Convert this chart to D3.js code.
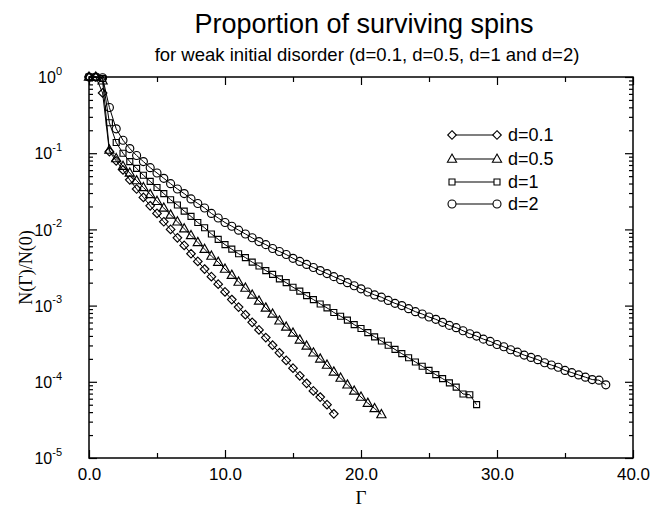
<!DOCTYPE html>
<html>
<head>
<meta charset="utf-8">
<script src="https://cdn.jsdelivr.net/npm/d3@7"></script>
<style>
  html, body { margin: 0; padding: 0; background: #fff; }
  svg { display: block; }
</style>
</head>
<body>
<svg id="chart" width="651" height="512"></svg>
<script>
// ---------------- DATA ----------------
const GAMMA = [0,0.5,1,1.5,2,2.5,3,3.5,4,4.5,5,5.5,6,6.5,7,7.5,8,8.5,9,9.5,10,10.5,11,11.5,12,12.5,13,13.5,14,14.5,15,15.5,16,16.5,17,17.5,18,18.5,19,19.5,20,20.5,21,21.5,22,22.5,23,23.5,24,24.5,25,25.5,26,26.5,27,27.5,28,28.5,29,29.5,30,30.5,31,31.5,32,32.5,33,33.5,34,34.5,35,35.5,36,36.5,37,37.5,38];

const D01 = [1,1,0.617,0.105,0.0794,0.0603,0.0447,0.0339,0.0263,0.0204,0.0162,0.0126,0.0100,0.00776,0.00617,0.00479,0.00380,0.00302,0.00240,0.00191,0.00151,0.00120,0.000955,0.000759,0.000603,0.000479,0.000380,0.000302,0.000240,0.000191,0.000151,0.000120,0.0000955,0.0000759,0.0000631,0.0000501,0.0000380];

const D05 = [1,1,0.891,0.110,0.0851,0.0676,0.0550,0.0437,0.0355,0.0288,0.0234,0.0191,0.0155,0.0126,0.0102,0.00832,0.00676,0.00550,0.00447,0.00372,0.00302,0.00251,0.00204,0.00170,0.00138,0.00115,0.000933,0.000776,0.000631,0.000525,0.000437,0.000355,0.000295,0.000240,0.000200,0.000166,0.000135,0.000112,0.0000912,0.0000759,0.0000631,0.0000525,0.0000447,0.0000372];

const D1 = [1,1,0.955,0.251,0.138,0.100,0.0776,0.0631,0.0513,0.0427,0.0355,0.0295,0.0245,0.0209,0.0174,0.0148,0.0123,0.0105,0.00871,0.00741,0.00631,0.00550,0.00479,0.00427,0.00372,0.00331,0.00288,0.00257,0.00224,0.00200,0.00174,0.00155,0.00135,0.00120,0.00105,0.000933,0.000813,0.000724,0.000646,0.000562,0.000501,0.000441,0.000389,0.000343,0.000302,0.000266,0.000234,0.000207,0.000182,0.000160,0.000141,0.000124,0.000110,0.0000966,0.0000851,0.0000692,0.0000676,0.0000501];

const D2 = [1,1,0.977,0.398,0.209,0.148,0.115,0.0933,0.0776,0.0646,0.0550,0.0468,0.0398,0.0339,0.0295,0.0251,0.0219,0.0191,0.0162,0.0141,0.0123,0.0110,0.00977,0.00871,0.00776,0.00692,0.00631,0.00562,0.00513,0.00468,0.00417,0.00380,0.00347,0.00316,0.00288,0.00263,0.00240,0.00219,0.00200,0.00182,0.00166,0.00151,0.00138,0.00129,0.00117,0.00107,0.00100,0.000912,0.000832,0.000776,0.000708,0.000661,0.000603,0.000550,0.000513,0.000468,0.000427,0.000398,0.000363,0.000339,0.000309,0.000288,0.000263,0.000245,0.000224,0.000209,0.000195,0.000178,0.000166,0.000155,0.000141,0.000132,0.000123,0.000115,0.000107,0.000105,0.0000912];

const SERIES_LABELS = ["d=0.1", "d=0.5", "d=1", "d=2"];
const SERIES_VALUES = [D01, D05, D1, D2];
const SERIES_MARKERS = ["diamond", "triangle", "square", "circle"];

const X_TICKS = [0, 10, 20, 30, 40];
const X_MINOR = [5, 15, 25, 35];
const Y_TICKS = [1, 1e-1, 1e-2, 1e-3, 1e-4, 1e-5];

const TITLE = "Proportion of surviving spins";
const SUBTITLE = "for weak initial disorder (d=0.1, d=0.5, d=1 and d=2)";
const X_TITLE = "\u0393";
const Y_TITLE = "N(\u0393)/N(0)";

// ---------------- LAYOUT ----------------
const L = 89, R = 633, T = 77, B = 458;
const svg = d3.select("#chart");
const x = d3.scaleLinear().domain([0, 40]).range([L, R]);
const y = d3.scaleLog().domain([1e-5, 1]).range([B, T]);

const sans = "'Liberation Sans', Arial, Helvetica, sans-serif";
const serif = "'Liberation Serif', 'Times New Roman', serif";

// titles
svg.append("text").attr("x", 364).attr("y", 33).attr("text-anchor", "middle")
  .attr("font-family", sans).attr("font-size", 27).attr("fill", "#000").text(TITLE);
svg.append("text").attr("x", 367).attr("y", 61).attr("text-anchor", "middle")
  .attr("font-family", sans).attr("font-size", 18.5).attr("fill", "#000").text(SUBTITLE);

// minor y ticks
const yMinor = [];
for (let e = -5; e < 0; e++) for (let m = 2; m <= 9; m++) yMinor.push(m * Math.pow(10, e));

function styleAxis(g) {
  g.select(".domain").remove();
  g.selectAll(".tick line").attr("stroke", "#000").attr("stroke-width", 1.2);
  g.selectAll("text").attr("font-family", sans).attr("font-size", 17).attr("fill", "#000");
}

// bottom
svg.append("g").attr("transform", `translate(0,${B})`)
  .call(d3.axisBottom(x).tickValues(X_TICKS).tickSize(-8).tickPadding(10).tickFormat(d3.format(".1f")))
  .call(styleAxis);
svg.append("g").attr("transform", `translate(0,${B})`)
  .call(d3.axisBottom(x).tickValues(X_MINOR).tickSize(-5).tickFormat(""))
  .call(styleAxis);
// top
svg.append("g").attr("transform", `translate(0,${T})`)
  .call(d3.axisTop(x).tickValues(X_TICKS).tickSize(-8).tickFormat(""))
  .call(styleAxis);
svg.append("g").attr("transform", `translate(0,${T})`)
  .call(d3.axisTop(x).tickValues(X_MINOR).tickSize(-5).tickFormat(""))
  .call(styleAxis);
// left
const gL = svg.append("g").attr("transform", `translate(${L},0)`)
  .call(d3.axisLeft(y).tickValues(Y_TICKS).tickSize(-8).tickFormat(""))
  .call(styleAxis);
svg.append("g").attr("transform", `translate(${L},0)`)
  .call(d3.axisLeft(y).tickValues(yMinor).tickSize(-4).tickFormat(""))
  .call(styleAxis);
// right
svg.append("g").attr("transform", `translate(${R},0)`)
  .call(d3.axisRight(y).tickValues(Y_TICKS).tickSize(-8).tickFormat(""))
  .call(styleAxis);
svg.append("g").attr("transform", `translate(${R},0)`)
  .call(d3.axisRight(y).tickValues(yMinor).tickSize(-4).tickFormat(""))
  .call(styleAxis);

// y tick labels 10^n
gL.selectAll(".tick").each(function(d) {
  const ex = Math.round(Math.log10(d));
  const t = d3.select(this).select("text");
  t.text(null).attr("x", -27).attr("dy", "0.35em").attr("text-anchor", "end").attr("font-size", 16);
  t.append("tspan").text("10");
  t.append("tspan").attr("font-size", 11).attr("dy", "-0.75em").text(String(ex).replace("\u2212", "-"));
});

// frame
svg.append("rect").attr("x", L).attr("y", T).attr("width", R - L).attr("height", B - T)
  .attr("fill", "none").attr("stroke", "#000").attr("stroke-width", 1.5);

// axis titles
svg.append("text").attr("x", 361).attr("y", 504).attr("text-anchor", "middle")
  .attr("font-family", serif).attr("font-size", 19).attr("fill", "#000").text(X_TITLE);
svg.append("text").attr("transform", `translate(32,${(T + B) / 2}) rotate(-90)`)
  .attr("text-anchor", "middle").attr("font-family", serif).attr("font-size", 18)
  .attr("fill", "#000").text(Y_TITLE);

// markers
function markerPath(type) {
  switch (type) {
    case "diamond": return "M0,-4.3L4.3,0L0,4.3L-4.3,0Z";
    case "triangle": return "M0,-5L4.6,3.2L-4.6,3.2Z";
    case "square": return "M-3,-3L3,-3L3,3L-3,3Z";
    default: return "M4,0A4,4 0 1,1 -4,0A4,4 0 1,1 4,0Z";
  }
}

const line = d3.line().x(d => x(d[0])).y(d => y(d[1]));
const plot = svg.append("g");
SERIES_VALUES.forEach((vals, si) => {
  const pts = vals.map((v, i) => [GAMMA[i], v]);
  plot.append("path").attr("d", line(pts)).attr("fill", "none")
    .attr("stroke", "#000").attr("stroke-width", 1);
  plot.selectAll(null).data(pts).enter().append("path")
    .attr("transform", d => `translate(${x(d[0])},${y(d[1])})`)
    .attr("d", markerPath(SERIES_MARKERS[si]))
    .attr("fill", "none").attr("stroke", "#000").attr("stroke-width", 1.15);
});

// legend
const LEG_Y = [135, 159, 182, 204];
const lg = svg.append("g");
SERIES_LABELS.forEach((lab, i) => {
  const yy = LEG_Y[i];
  lg.append("line").attr("x1", 452).attr("x2", 497).attr("y1", yy).attr("y2", yy)
    .attr("stroke", "#000").attr("stroke-width", 1.2);
  [452, 497].forEach(xx => {
    lg.append("path").attr("transform", `translate(${xx},${yy})`)
      .attr("d", markerPath(SERIES_MARKERS[i]))
      .attr("fill", "#fff").attr("stroke", "#000").attr("stroke-width", 1.1);
  });
  lg.append("text").attr("x", 508).attr("y", yy).attr("dy", "0.36em")
    .attr("font-family", sans).attr("font-size", 18).attr("fill", "#000").text(lab);
});
</script>
</body>
</html>
